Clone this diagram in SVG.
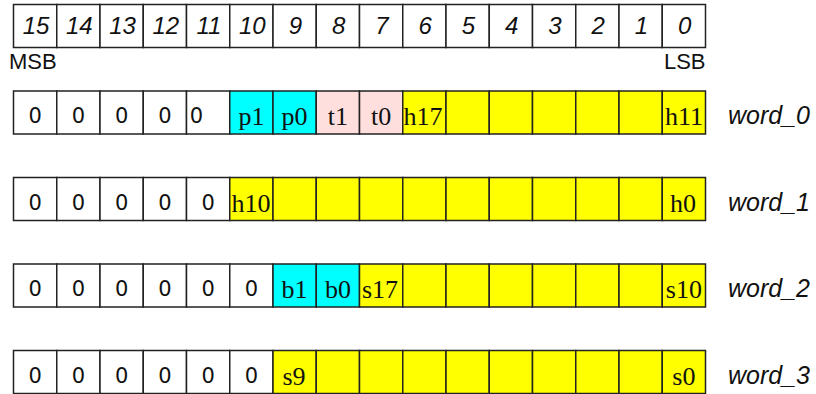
<svg xmlns="http://www.w3.org/2000/svg" width="816" height="394" viewBox="0 0 816 394">
<style>
rect{stroke:#222;stroke-width:1.5}
.w{fill:#fff}.c{fill:#00ffff}.p{fill:#ffdede}.y{fill:#ffff00}
.hd{font-family:"Liberation Sans",Arial,sans-serif;font-style:italic;font-size:24px;fill:#111;text-anchor:middle}
.lb{font-family:"Liberation Sans",Arial,sans-serif;font-size:22px;fill:#111}
.z{font-family:"DejaVu Sans",sans-serif;font-size:21px;fill:#111;text-anchor:middle}
.s{font-family:"Liberation Serif","Times New Roman",serif;font-size:26px;fill:#111;text-anchor:middle}
.wd{font-family:"Liberation Sans",Arial,sans-serif;font-style:italic;font-size:25px;fill:#111}
</style>
<rect x="0" y="0" width="816" height="394" fill="#fff" style="stroke:none"/>
<g id="header">
<rect class="w" x="13.5" y="4.5" width="43.25" height="43"/><rect class="w" x="56.75" y="4.5" width="43.25" height="43"/><rect class="w" x="100" y="4.5" width="43.25" height="43"/><rect class="w" x="143.25" y="4.5" width="43.25" height="43"/><rect class="w" x="186.5" y="4.5" width="43.25" height="43"/><rect class="w" x="229.75" y="4.5" width="43.25" height="43"/><rect class="w" x="273" y="4.5" width="43.25" height="43"/><rect class="w" x="316.25" y="4.5" width="43.25" height="43"/><rect class="w" x="359.5" y="4.5" width="43.25" height="43"/><rect class="w" x="402.75" y="4.5" width="43.25" height="43"/><rect class="w" x="446" y="4.5" width="43.25" height="43"/><rect class="w" x="489.25" y="4.5" width="43.25" height="43"/><rect class="w" x="532.5" y="4.5" width="43.25" height="43"/><rect class="w" x="575.75" y="4.5" width="43.25" height="43"/><rect class="w" x="619" y="4.5" width="43.25" height="43"/><rect class="w" x="662.25" y="4.5" width="43.25" height="43"/>
<text class="hd" y="34"><tspan x="36">15</tspan><tspan x="79.3">14</tspan><tspan x="122.5">13</tspan><tspan x="165.8">12</tspan><tspan x="209">11</tspan><tspan x="252.3">10</tspan><tspan x="295.5">9</tspan><tspan x="338.8">8</tspan><tspan x="382">7</tspan><tspan x="425.3">6</tspan><tspan x="468.5">5</tspan><tspan x="511.8">4</tspan><tspan x="555">3</tspan><tspan x="598.3">2</tspan><tspan x="641.5">1</tspan><tspan x="684.8">0</tspan></text>
<text class="lb" x="9" y="68.5">MSB</text>
<text class="lb" x="705.5" y="68.5" text-anchor="end">LSB</text>
</g>
<g id="word_0">
<rect class="w" x="13.5" y="91" width="43.25" height="43"/><rect class="w" x="56.75" y="91" width="43.25" height="43"/><rect class="w" x="100" y="91" width="43.25" height="43"/><rect class="w" x="143.25" y="91" width="43.25" height="43"/><rect class="w" x="186.5" y="91" width="43.25" height="43"/><rect class="c" x="229.75" y="91" width="43.25" height="43"/><rect class="c" x="273" y="91" width="43.25" height="43"/><rect class="p" x="316.25" y="91" width="43.25" height="43"/><rect class="p" x="359.5" y="91" width="43.25" height="43"/><rect class="y" x="402.75" y="91" width="43.25" height="43"/><rect class="y" x="446" y="91" width="43.25" height="43"/><rect class="y" x="489.25" y="91" width="43.25" height="43"/><rect class="y" x="532.5" y="91" width="43.25" height="43"/><rect class="y" x="575.75" y="91" width="43.25" height="43"/><rect class="y" x="619" y="91" width="43.25" height="43"/><rect class="y" x="662.25" y="91" width="43.25" height="43"/>
<text class="z" y="123"><tspan x="35.1">0</tspan><tspan x="78.4">0</tspan><tspan x="121.6">0</tspan><tspan x="164.9">0</tspan><tspan x="196.5">0</tspan></text>
<text class="s" y="125"><tspan x="251.4">p1</tspan><tspan x="294.6">p0</tspan><tspan x="337.9">t1</tspan><tspan x="381.1">t0</tspan><tspan x="423">h17</tspan><tspan x="683.9">h11</tspan></text>
<text class="wd" x="728" y="124">word_0</text>
</g>
<g id="word_1">
<rect class="w" x="13.5" y="177.5" width="43.25" height="43"/><rect class="w" x="56.75" y="177.5" width="43.25" height="43"/><rect class="w" x="100" y="177.5" width="43.25" height="43"/><rect class="w" x="143.25" y="177.5" width="43.25" height="43"/><rect class="w" x="186.5" y="177.5" width="43.25" height="43"/><rect class="y" x="229.75" y="177.5" width="43.25" height="43"/><rect class="y" x="273" y="177.5" width="43.25" height="43"/><rect class="y" x="316.25" y="177.5" width="43.25" height="43"/><rect class="y" x="359.5" y="177.5" width="43.25" height="43"/><rect class="y" x="402.75" y="177.5" width="43.25" height="43"/><rect class="y" x="446" y="177.5" width="43.25" height="43"/><rect class="y" x="489.25" y="177.5" width="43.25" height="43"/><rect class="y" x="532.5" y="177.5" width="43.25" height="43"/><rect class="y" x="575.75" y="177.5" width="43.25" height="43"/><rect class="y" x="619" y="177.5" width="43.25" height="43"/><rect class="y" x="662.25" y="177.5" width="43.25" height="43"/>
<text class="z" y="209.5"><tspan x="35.1">0</tspan><tspan x="78.4">0</tspan><tspan x="121.6">0</tspan><tspan x="164.9">0</tspan><tspan x="208.1">0</tspan></text>
<text class="s" y="211.5"><tspan x="251">h10</tspan><tspan x="683">h0</tspan></text>
<text class="wd" x="728" y="210.5">word_1</text>
</g>
<g id="word_2">
<rect class="w" x="13.5" y="264" width="43.25" height="43"/><rect class="w" x="56.75" y="264" width="43.25" height="43"/><rect class="w" x="100" y="264" width="43.25" height="43"/><rect class="w" x="143.25" y="264" width="43.25" height="43"/><rect class="w" x="186.5" y="264" width="43.25" height="43"/><rect class="w" x="229.75" y="264" width="43.25" height="43"/><rect class="c" x="273" y="264" width="43.25" height="43"/><rect class="c" x="316.25" y="264" width="43.25" height="43"/><rect class="y" x="359.5" y="264" width="43.25" height="43"/><rect class="y" x="402.75" y="264" width="43.25" height="43"/><rect class="y" x="446" y="264" width="43.25" height="43"/><rect class="y" x="489.25" y="264" width="43.25" height="43"/><rect class="y" x="532.5" y="264" width="43.25" height="43"/><rect class="y" x="575.75" y="264" width="43.25" height="43"/><rect class="y" x="619" y="264" width="43.25" height="43"/><rect class="y" x="662.25" y="264" width="43.25" height="43"/>
<text class="z" y="296"><tspan x="35.1">0</tspan><tspan x="78.4">0</tspan><tspan x="121.6">0</tspan><tspan x="164.9">0</tspan><tspan x="208.1">0</tspan><tspan x="251.4">0</tspan></text>
<text class="s" y="298"><tspan x="294.6">b1</tspan><tspan x="337.9">b0</tspan><tspan x="380">s17</tspan><tspan x="683.9">s10</tspan></text>
<text class="wd" x="728" y="297">word_2</text>
</g>
<g id="word_3">
<rect class="w" x="13.5" y="350.5" width="43.25" height="43"/><rect class="w" x="56.75" y="350.5" width="43.25" height="43"/><rect class="w" x="100" y="350.5" width="43.25" height="43"/><rect class="w" x="143.25" y="350.5" width="43.25" height="43"/><rect class="w" x="186.5" y="350.5" width="43.25" height="43"/><rect class="w" x="229.75" y="350.5" width="43.25" height="43"/><rect class="y" x="273" y="350.5" width="43.25" height="43"/><rect class="y" x="316.25" y="350.5" width="43.25" height="43"/><rect class="y" x="359.5" y="350.5" width="43.25" height="43"/><rect class="y" x="402.75" y="350.5" width="43.25" height="43"/><rect class="y" x="446" y="350.5" width="43.25" height="43"/><rect class="y" x="489.25" y="350.5" width="43.25" height="43"/><rect class="y" x="532.5" y="350.5" width="43.25" height="43"/><rect class="y" x="575.75" y="350.5" width="43.25" height="43"/><rect class="y" x="619" y="350.5" width="43.25" height="43"/><rect class="y" x="662.25" y="350.5" width="43.25" height="43"/>
<text class="z" y="382.5"><tspan x="35.1">0</tspan><tspan x="78.4">0</tspan><tspan x="121.6">0</tspan><tspan x="164.9">0</tspan><tspan x="208.1">0</tspan><tspan x="251.4">0</tspan></text>
<text class="s" y="384.5"><tspan x="294">s9</tspan><tspan x="683.9">s0</tspan></text>
<text class="wd" x="728" y="383.5">word_3</text>
</g>
<g id="connectors"/>
</svg>
